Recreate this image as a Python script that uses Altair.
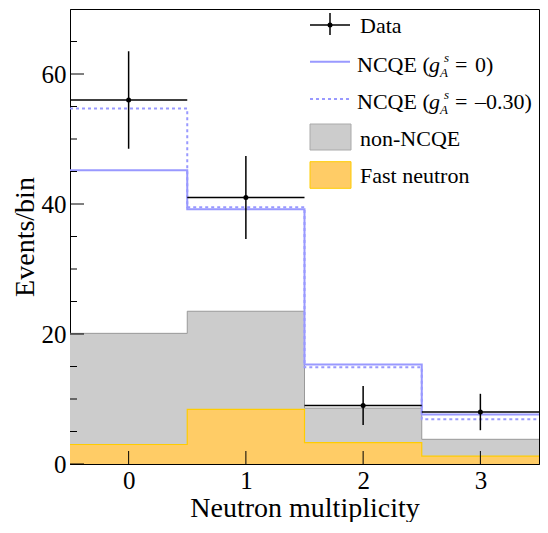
import altair as alt
import pandas as pd

# ---- data ----
bins = [0, 1, 2, 3]
data_counts = [56, 41, 9, 8]
data_err = [7.5, 6.4, 3.0, 2.8]
ncqe_0 = [45.2, 39.2, 15.3, 7.6]
ncqe_m030 = [54.7, 39.5, 14.9, 6.9]
non_ncqe = [20.1, 23.5, 8.6, 3.8]
fast_neutron = [3.0, 8.4, 3.3, 1.2]
y_major = [0, 20, 40, 60]
y_minor = [5, 10, 15, 25, 30, 35, 45, 50, 55, 65]
x_title = "Neutron multiplicity"
y_title = "Events/bin"

F = "Liberation Serif"
BLUE = "#9999ff"
W, H = 469, 455

xs = alt.Scale(domain=[-0.5, 3.5], nice=False, zero=False)
ys = alt.Scale(domain=[0, 70], nice=False, zero=True)

X_AX = alt.Axis(values=bins, ticks=False, grid=False, labelFont=F,
                labelFontSize=25, labelColor="black", labelPadding=4,
                titleFont=F, titleFontSize=28, titleFontWeight="normal",
                titleColor="black", titleBaseline="alphabetic",
                titleX=W / 2, titleY=52, titleAlign="center",
                domainColor="black", labelFlush=False)
Y_AX = alt.Axis(values=y_major, ticks=False, grid=False, labelFont=F,
                labelFontSize=25, labelColor="black", labelPadding=4,
                titleFont=F, titleFontSize=28, titleFontWeight="normal",
                titleColor="black", titleBaseline="alphabetic",
                titleX=-37, titleY=H / 2, titleAlign="center", titleAngle=270,
                domainColor="black", labelFlush=False)


def X(f):
    return alt.X(f, scale=xs, axis=X_AX, title=x_title)


def Y(f):
    return alt.Y(f, scale=ys, axis=Y_AX, title=y_title)


edges = [b - 0.5 for b in bins] + [bins[-1] + 0.5]


def step_df(vals):
    return pd.DataFrame({"x": edges, "y": list(vals) + [vals[-1]]})


def step_area(vals, color):
    return alt.Chart(step_df(vals)).mark_area(
        interpolate="step-after", color=color, opacity=1
    ).encode(x=X("x:Q"), y=Y("y:Q"))


def step_line(vals, color, width=1, dash=None):
    kw = dict(interpolate="step-after", color=color, strokeWidth=width)
    if dash:
        kw["strokeDash"] = dash
    return alt.Chart(step_df(vals)).mark_line(**kw).encode(x=X("x:Q"), y=Y("y:Q"))


one = pd.DataFrame({"a": [0]})


def txt(s, x, y, size=22, style="normal"):
    return alt.Chart(pd.DataFrame({"t": [s]})).mark_text(
        font=F, fontSize=size, fontStyle=style, align="left",
        baseline="alphabetic", color="black"
    ).encode(x=alt.value(x), y=alt.value(y), text="t:N")


def hline(x1, x2, y, color, width=1.5, dash=None):
    kw = dict(color=color, strokeWidth=width)
    if dash:
        kw["strokeDash"] = dash
    return alt.Chart(one).mark_rule(**kw).encode(
        x=alt.value(x1), x2=alt.value(x2), y=alt.value(y)
    )


layers = []

# histograms
layers.append(step_area(non_ncqe, "#cccccc"))
layers.append(step_line(non_ncqe, "#999999", 1))
layers.append(step_area(fast_neutron, "#ffcc66"))
layers.append(step_line(fast_neutron, "#ffcc00", 1.2))
layers.append(step_line(ncqe_0, BLUE, 2))
layers.append(step_line(ncqe_m030, BLUE, 2, dash=[3, 3]))

# data points
ddf = pd.DataFrame({
    "x": bins,
    "lo": [b - 0.5 for b in bins],
    "hi": [b + 0.5 for b in bins],
    "y": data_counts,
    "ylo": [c - e for c, e in zip(data_counts, data_err)],
    "yhi": [c + e for c, e in zip(data_counts, data_err)],
})
layers.append(alt.Chart(ddf).mark_rule(color="black", strokeWidth=1.5).encode(
    x=X("lo:Q"), x2="hi:Q", y=Y("y:Q")))
layers.append(alt.Chart(ddf).mark_rule(color="black", strokeWidth=1.5).encode(
    x=X("x:Q"), y=Y("ylo:Q"), y2="yhi:Q"))
layers.append(alt.Chart(ddf).mark_point(filled=True, color="black", size=25, opacity=1).encode(
    x=X("x:Q"), y=Y("y:Q")))

# inward ticks
layers.append(alt.Chart(pd.DataFrame({"v": y_major})).mark_rule(color="black", strokeWidth=1).encode(
    y=Y("v:Q"), x=alt.value(0), x2=alt.value(14)))
layers.append(alt.Chart(pd.DataFrame({"v": y_minor})).mark_rule(color="black", strokeWidth=1).encode(
    y=Y("v:Q"), x=alt.value(0), x2=alt.value(7)))
layers.append(alt.Chart(pd.DataFrame({"v": bins})).mark_rule(color="black", strokeWidth=1).encode(
    x=X("v:Q"), y=alt.value(H), y2=alt.value(H - 13)))

# legend (pixel layout inside the plot area)
DX = -7
LX1, LX2, TX = 247 + DX, 287 + DX, 294 + DX
GX, AX, SX, EQX, NX = 366 + DX, 377 + DX, 385 + DX, 392 + DX, 412 + DX
layers.append(hline(LX1, LX2, 16, "black", 1.5))
layers.append(alt.Chart(one).mark_rule(color="black", strokeWidth=1.5).encode(
    x=alt.value((LX1 + LX2) / 2), y=alt.value(4), y2=alt.value(26)))
layers.append(alt.Chart(one).mark_point(filled=True, color="black", size=25, opacity=1).encode(
    x=alt.value((LX1 + LX2) / 2), y=alt.value(16)))
layers.append(txt("Data", TX + 3, 23.5))

for yl, yb, lab, dash in [(52.7, 62.5, "0)", None), (90, 99.5, "\u20130.30)", [3, 3])]:
    layers.append(hline(LX1, LX2, yl, BLUE, 2, dash=dash))
    layers.append(txt("NCQE (", TX, yb))
    layers.append(txt("g", GX, yb, style="italic"))
    layers.append(txt("s", SX - 4, yb - 10, size=13, style="italic"))
    layers.append(txt("A", AX, yb + 5, size=13, style="italic"))
    layers.append(txt("=", EQX, yb))
    layers.append(txt(lab, NX, yb))

layers.append(alt.Chart(one).mark_rect(color="#cccccc", stroke="#aaaaaa", strokeWidth=1).encode(
    x=alt.value(LX1), x2=alt.value(LX2 + 1), y=alt.value(115), y2=alt.value(141)))
layers.append(txt("non-NCQE", TX + 3, 137))
layers.append(alt.Chart(one).mark_rect(color="#ffcc66", stroke="#ffcc00", strokeWidth=1).encode(
    x=alt.value(LX1), x2=alt.value(LX2 + 1), y=alt.value(152.7), y2=alt.value(179.3)))
layers.append(txt("Fast neutron", TX + 3, 173.7))

chart = alt.layer(*layers).properties(
    width=W, height=H,
    autosize=alt.AutoSizeParams(type="none"),
    padding={"left": 62, "top": 1, "right": 1, "bottom": 58},
    background="white",
).configure_view(stroke="black", strokeWidth=1)

chart.save("out.html", embed_options={"renderer": "svg", "actions": False})
